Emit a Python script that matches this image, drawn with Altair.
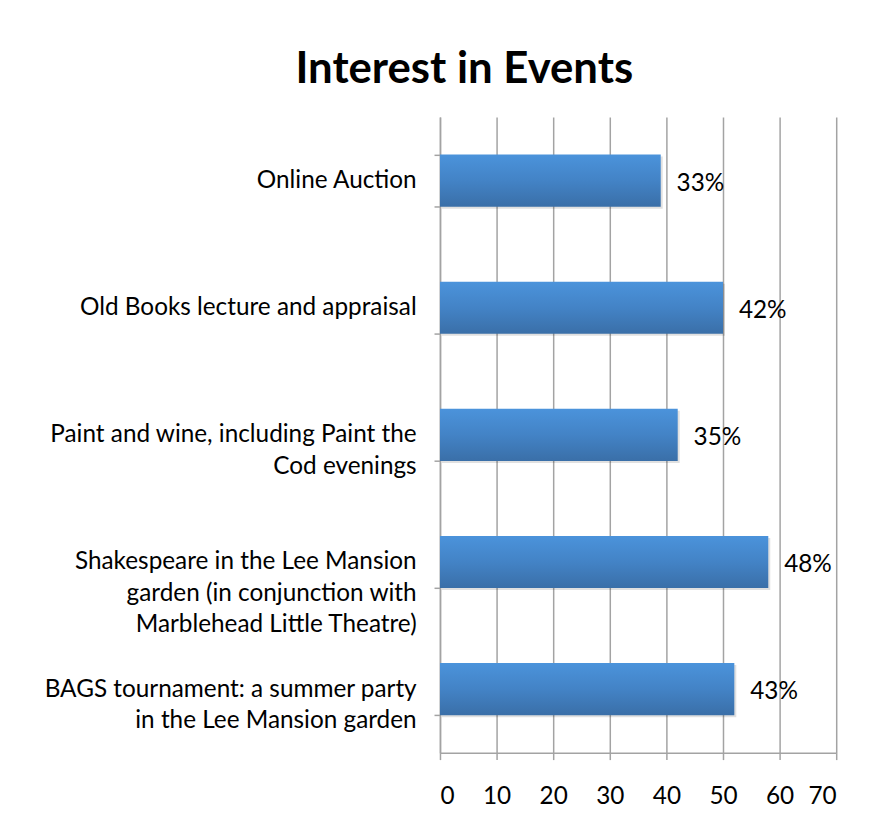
import altair as alt
import pandas as pd

event_lines = [
    ["Online Auction"],
    ["Old Books lecture and appraisal"],
    ["Paint and wine, including Paint the", "Cod evenings"],
    ["Shakespeare in the Lee Mansion", "garden (in conjunction with", "Marblehead Little Theatre)"],
    ["BAGS tournament: a summer party", "in the Lee Mansion garden"],
]
bar_values = [39, 50, 42, 58, 52]
pct_labels = ["33%", "42%", "35%", "48%", "43%"]
x_ticks = [0, 10, 20, 30, 40, 50, 60, 70]

events = ["|".join(l) for l in event_lines]
df = pd.DataFrame({"event": events, "value": bar_values, "pct": pct_labels})

FONT = "Lato"
GRID = "#a3a3a3"

y_enc = alt.Y(
    "event:N",
    sort=events,
    title=None,
    scale=alt.Scale(paddingInner=0.59, paddingOuter=0.295),
    axis=alt.Axis(
        labelExpr="split(datum.label, '|')",
        labelFont=FONT,
        labelFontSize=24.5,
        labelColor="#000000",
        labelAlign="right",
        labelBaseline="middle",
        labelLineHeight=31.5,
        labelPadding=18,
        labelLimit=600,
        tickBand="extent",
        tickSize=6,
        tickColor=GRID,
        tickWidth=1.5,
        domainColor=GRID,
        domainWidth=1.5,
        grid=False,
    ),
)

x_enc = alt.X(
    "value:Q",
    title=None,
    scale=alt.Scale(domain=[0, 70], nice=False),
    axis=alt.Axis(
        values=x_ticks,
        labelFont=FONT,
        labelFontSize=24.5,
        labelColor="#000000",
        labelPadding=25,
        tickSize=7,
        tickColor=GRID,
        tickWidth=1.5,
        domainColor=GRID,
        domainWidth=1.5,
        grid=True,
        gridColor=GRID,
        gridWidth=1.5,
    ),
)

shadow = alt.Chart(df).mark_bar(color="#000000", opacity=0.12, xOffset=2, yOffset=2).encode(
    x=x_enc, y=y_enc
)

bars = alt.Chart(df).mark_bar(
    color=alt.Gradient(
        gradient="linear",
        stops=[
            alt.GradientStop(color="#4b93db", offset=0),
            alt.GradientStop(color="#4383c6", offset=0.5),
            alt.GradientStop(color="#3a6fa8", offset=1),
        ],
        x1=0, x2=0, y1=0, y2=1,
    )
).encode(x=x_enc, y=y_enc)

labels = alt.Chart(df).mark_text(
    align="left", baseline="middle", dx=16, dy=3, font=FONT, fontSize=24.5, color="#000000"
).encode(x=x_enc, y=y_enc, text="pct:N")

chart = (
    alt.layer(shadow, bars, labels)
    .properties(
        width=399,
        height=640,
        autosize=alt.AutoSizeParams(type="none"),
        padding={"left": 435, "top": 107, "right": 30, "bottom": 70},
        title=alt.TitleParams(
            "Interest in Events",
            font=FONT,
            fontSize=44,
            fontWeight="bold",
            color="#000000",
            anchor="middle",
            frame="group",
            dx=-175,
            offset=12,
        ),
        background="#ffffff",
    )
    .configure_view(stroke=None)
)

chart.save("out.html", embed_options={"renderer": "svg", "actions": False})
